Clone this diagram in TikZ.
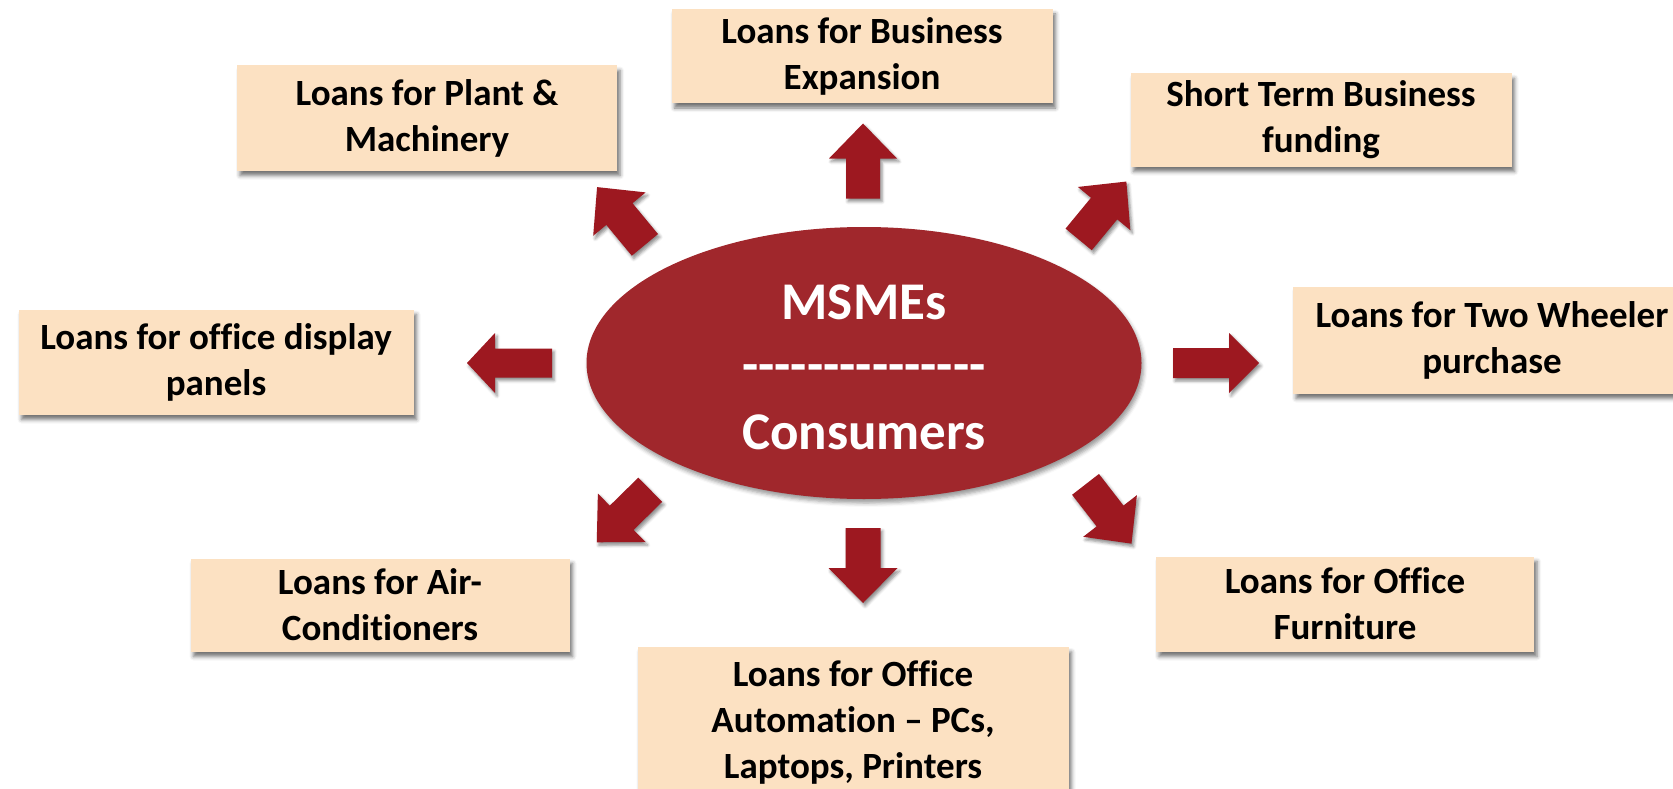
\documentclass[tikz,border=0pt]{standalone}
\usepackage{fontspec}
\setmainfont{Carlito}[Ligatures={NoCommon,NoDiscretionary,NoContextual}]
\usetikzlibrary{shadows.blur,shapes.geometric}
\definecolor{boxfill}{HTML}{FCE1C2}
\definecolor{ellfill}{HTML}{A0272C}
\definecolor{arrfill}{HTML}{9D1820}
\newcommand\blkarrow[7]{%
  \begin{scope}[shift={(#1,#2)}, rotate=#3]
    \fill[arrfill, arrshadow] ({-#4/2},{-#5/2}) -- ({#4/2-#7},{-#5/2}) -- ({#4/2-#7},{-#6/2})
      -- ({#4/2},0) -- ({#4/2-#7},{#6/2}) -- ({#4/2-#7},{#5/2}) -- ({-#4/2},{#5/2}) -- cycle;
  \end{scope}}
\newcommand\hy{\mbox{-}}
\begin{document}
\begin{tikzpicture}[x=1pt,y=-1pt,
  loanbox/.style={fill=boxfill, align=center, inner sep=0pt,
    font=\bfseries\fontsize{37}{46}\selectfont,
    blur shadow={shadow xshift=3pt, shadow yshift=-5pt, shadow blur radius=4pt, shadow opacity=55}},
  arrshadow/.style={blur shadow={shadow xshift=2pt, shadow yshift=-3pt, shadow blur radius=3pt, shadow opacity=45}},
  elltext/.style={text=white, font=\bfseries\fontsize{53}{65}\selectfont, anchor=base, inner sep=0pt}]
\useasboundingbox (0,0) rectangle (1673,789);

% centre ellipse
\node[ellipse, fill=ellfill, minimum width=555pt, minimum height=272pt,
  blur shadow={shadow xshift=2pt, shadow yshift=-4pt, shadow blur radius=4pt, shadow opacity=40}]
  (core) at (864,363) {};
\node[elltext] (t1) at (864,319) {MSMEs};
\node[elltext] (t2) at (864,382) {\hy\hy\hy\hy\hy\hy\hy\hy\hy\hy\hy\hy\hy\hy\hy};
\node[elltext] (t3) at (864,449) {Consumers};

% boxes
\node[loanbox, minimum width=381pt, minimum height=94pt] (b1) at (862,56) {Loans for Business\\Expansion};
\node[loanbox, minimum width=380pt, minimum height=105pt] (b2) at (427,118) {Loans for Plant \&\\Machinery};
\node[loanbox, minimum width=381pt, minimum height=93pt] (b3) at (1321,120) {Short Term Business\\funding};
\node[loanbox, minimum width=395pt, minimum height=105pt] (b4) at (216,362) {Loans for office display\\panels};
\node[loanbox, minimum width=398pt, minimum height=107pt] (b5) at (1492,340) {Loans for Two Wheeler\\purchase};
\node[loanbox, minimum width=379pt, minimum height=93pt] (b6) at (380,605) {Loans for Air-\\Conditioners};
\node[loanbox, minimum width=431pt, minimum height=150pt] (b7) at (853,722) {Loans for Office\\Automation – PCs,\\Laptops, Printers};
\node[loanbox, minimum width=378pt, minimum height=95pt] (b8) at (1345,604) {Loans for Office\\Furniture};

% block arrows
\blkarrow{863}{161}{90}{75}{34}{68}{35}
\blkarrow{621}{216}{129.6}{75}{34}{68}{35}
\blkarrow{1102.5}{210.5}{50.5}{75}{34}{68}{35}
\blkarrow{1216}{363}{0}{86}{30}{60}{30}
\blkarrow{509.5}{363}{180}{85}{29}{60}{28}
\blkarrow{623.5}{516}{224.5}{75}{34}{68}{35}
\blkarrow{863}{565.5}{-90}{75}{35}{69}{35}
\blkarrow{1108.5}{514}{-52.2}{75}{34}{68}{35}
\end{tikzpicture}
\end{document}
